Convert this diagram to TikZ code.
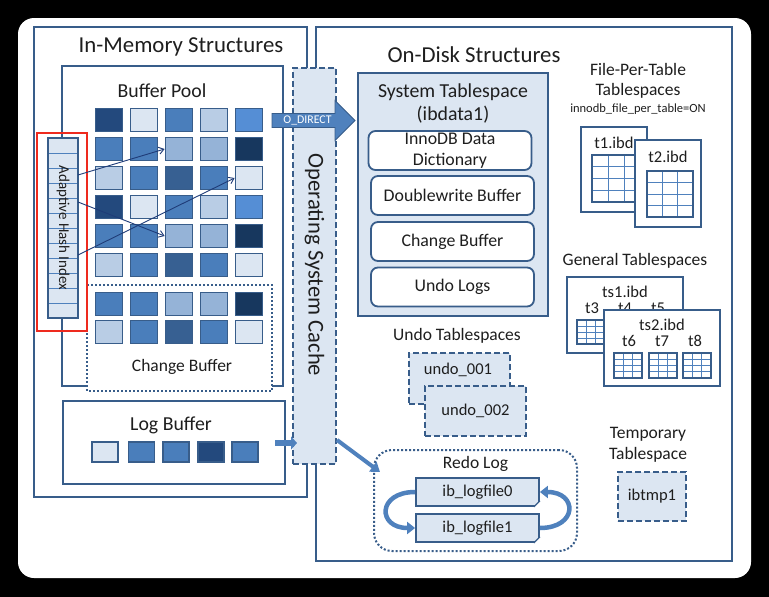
\documentclass[tikz,border=0pt]{standalone}
\usepackage{fontspec}
\setmainfont{Carlito}
\usetikzlibrary{arrows.meta,calc}
\definecolor{bd}{HTML}{385D8A}
\definecolor{lf}{HTML}{DCE6F2}
\definecolor{cnavy}{HTML}{23497D}
\definecolor{cvlight}{HTML}{DCE6F2}
\definecolor{cmed}{HTML}{4A7EBB}
\definecolor{clight}{HTML}{B9CDE5}
\definecolor{cbright}{HTML}{558ED5}
\definecolor{cmedlight}{HTML}{95B3D7}
\definecolor{cvdark}{HTML}{17375E}
\definecolor{cdmed}{HTML}{376092}
\definecolor{ablue}{HTML}{4F81BD}
\definecolor{txt}{HTML}{1E1E1E}
\definecolor{ahired}{HTML}{EE2A1E}
\definecolor{harrow}{HTML}{1F3C78}
\newcommand{\tblgrid}[6]{%
  \fill[white] (#1,#2) rectangle (#3,#4);
  \foreach \k in {1,...,#5}{\draw[ablue,line width=0.9pt] ({#1+(#3-#1)*\k/#5},#2) -- ({#1+(#3-#1)*\k/#5},#4);}
  \foreach \k in {1,...,#6}{\draw[ablue,line width=0.9pt] (#1,{#2+(#4-#2)*\k/#6}) -- (#3,{#2+(#4-#2)*\k/#6});}
  \draw[bd,line width=1.8pt] (#1,#2) rectangle (#3,#4);
}
\begin{document}
\begin{tikzpicture}[x=1pt,y=-1pt,
  box/.style={draw=bd, line width=1.8pt, inner sep=0pt},
  sq/.style={draw=bd, line width=1.8pt, minimum width=27pt, minimum height=23pt, inner sep=0pt},
  lsq/.style={draw=bd, line width=1.8pt, minimum width=26pt, minimum height=20pt, inner sep=0pt},
  lbl/.style={text=txt, inner sep=0pt, font=\fontsize{17.5}{20}\selectfont},
  big/.style={text=txt, inner sep=0pt, font=\fontsize{22.8}{26}\selectfont},
  mid/.style={text=txt, inner sep=0pt, font=\fontsize{19.8}{23}\selectfont},
  sml/.style={text=txt, inner sep=0pt, font=\fontsize{16.5}{19}\selectfont},
  dashbox/.style={draw=bd, line width=1.8pt, dash pattern=on 6pt off 3pt, fill=lf, inner sep=0pt},
  rbox/.style={draw=bd, line width=1.8pt, rounded corners=7pt, fill=white, minimum width=163pt, minimum height=39pt, inner sep=0pt, text=txt, font=\fontsize{17.8}{21}\selectfont, align=center},
  hasharrow/.style={draw=harrow, line width=0.9pt, -{Straight Barb[length=5pt,width=7pt]}},
  fatarrow/.style={draw=ablue, line width=4.5pt, -{Triangle[length=8pt,width=12pt]}},
]
\useasboundingbox (0,0) rectangle (769,597);
\fill[black] (0,0) rectangle (769,597);
\fill[white, rounded corners=16pt] (18,18) rectangle (751,578);

% outer boxes
\draw[box] (34,27) rectangle (307,497);
\draw[box] (316,27) rectangle (732,561);
\node[big] (imtitle) at (181,47) {In-Memory Structures};
\node[big] (odtitle) at (474,55) {On-Disk Structures};

% buffer pool
\draw[box] (62,66) rectangle (283,386);
\node[mid] (bptitle) at (162,91) {Buffer Pool};
\draw[draw=bd, line width=2pt, dotted, fill=white] (87,285) rectangle (272,391);
\node[lbl] (cbtitle) at (182,367) {Change Buffer};

\foreach \r/\yy/\cl in {1/120/{cnavy,cvlight,cmed,clight,cbright},
                        2/149/{cmed,cmed,cmedlight,cmedlight,cvdark},
                        3/178/{clight,cmed,cdmed,cmed,cvlight},
                        4/207/{cnavy,cvlight,cmed,clight,cbright},
                        5/236/{cmed,cmed,cmedlight,cmedlight,cvdark},
                        6/265/{clight,cmed,cdmed,cmed,cvlight},
                        7/304/{cmed,cmed,cmedlight,cmedlight,cvdark},
                        8/332/{clight,cmed,cdmed,cmed,cvlight}}{
  \foreach \cc [count=\i] in \cl {
    \node[sq, fill=\cc] (bp-\r-\i) at ({74+35*\i},\yy) {};
  }
}

% adaptive hash index
\node[draw=bd, line width=1.5pt, fill=lf, minimum width=30pt, minimum height=180pt, inner sep=0pt] (ahi) at (63,228) {};
\foreach \k in {1,...,11}{\draw[ablue, line width=0.7pt] (48.8,{138+15*\k}) -- (77.2,{138+15*\k});}
\node[text=txt, inner sep=0pt, rotate=-90, font=\fontsize{15}{17}\selectfont] (ahitxt) at (63,228) {Adaptive Hash Index};
\node[draw=ahired, line width=2.5pt, minimum width=50pt, minimum height=198pt, inner sep=0pt] (ahibox) at (62,232) {};

\coordinate (h1) at (78,175);
\coordinate (h2) at (78,202);
\coordinate (h3) at (78,255);
\draw[hasharrow] (h1) -- (bp-2-3.west);
\draw[hasharrow] (h2) -- (bp-5-3.west);
\draw[hasharrow] (h3) -- (bp-3-5.west);

% log buffer
\draw[box] (63,401) rectangle (285,484);
\node[mid] (lbtitle) at (171,425) {Log Buffer};
\foreach \cc/\xx [count=\i] in {cvlight/105,cmed/141.5,cmed/176,cnavy/211,cmed/245}{
  \node[lsq, fill=\cc] (lb-\i) at (\xx,452) {};
}

% operating system cache
\node[dashbox, minimum width=43pt, minimum height=396pt] (osc) at (314.5,266) {};
\node[text=txt, inner sep=0pt, rotate=-90, font=\fontsize{22.6}{26}\selectfont] (osctxt) at (314.5,265) {Operating System Cache};

% O_DIRECT arrow
\filldraw[fill=ablue, draw=bd, line width=0.8pt] (272,113.5) -- (335,113.5) -- (335,100.5) -- (355,120.5) -- (335,140.5) -- (335,127.5) -- (272,127.5) -- cycle;
\node[text=white, inner sep=0pt, font=\fontsize{11.8}{14}\selectfont] (odirect) at (307.5,120.5) {O\_DIRECT};

% log buffer -> OS cache
\coordinate (lbout) at (275,443);
\coordinate (oscin) at (297,443);
\draw[draw=ablue, line width=6pt, -{Triangle[length=6pt,width=13pt]}] (lbout) -- (oscin);

% system tablespace
\node[box, fill=lf, minimum width=190pt, minimum height=243pt] (systs) at (453,194.5) {};
\node[mid] (systitle) at (453,92) {System Tablespace};
\node[mid] (ibdata) at (453,115) {(ibdata1)};
\node[rbox, font=\fontsize{17.8}{21}\selectfont] (dict) at (450,150.5) {InnoDB Data\\Dictionary};
\node[rbox] (dblw) at (452.5,195.5) {Doublewrite Buffer};
\node[rbox] (chgb) at (452.5,241.5) {Change Buffer};
\node[rbox] (undol) at (452.5,287) {Undo Logs};

% file-per-table
\node[lbl] (fpt1) at (638,69) {File-Per-Table};
\node[lbl] (fpt2) at (638,91) {Tablespaces};
\node[text=txt, inner sep=0pt, font=\fontsize{12.5}{14}\selectfont] (fpt3) at (638,109) {innodb\_file\_per\_table=ON};
\node[box, fill=white, minimum width=66pt, minimum height=85pt] (t1) at (614,169.5) {};
\node[sml] (t1txt) at (614,143) {t1.ibd};
\tblgrid{592}{155}{640}{202}{3}{4}
\node[box, fill=white, minimum width=66pt, minimum height=87pt] (t2) at (668,183.5) {};
\node[sml] (t2txt) at (668,157) {t2.ibd};
\tblgrid{647}{171}{693}{217}{3}{4}

% general tablespaces
\node[lbl] (gentitle) at (635,261) {General Tablespaces};
\node[box, fill=white, minimum width=116pt, minimum height=76pt] (ts1) at (625,315) {};
\node[sml] (ts1txt) at (625,292) {ts1.ibd};
\node[sml] (t3txt) at (592,308) {t3};
\node[sml] (t4txt) at (625,308) {t4};
\node[sml] (t5txt) at (658,308) {t5};
\tblgrid{577}{320}{605}{344}{3}{4}
\node[box, fill=white, minimum width=116pt, minimum height=76pt] (ts2) at (662,348) {};
\node[sml] (ts2txt) at (662,325) {ts2.ibd};
\node[sml] (t6txt) at (629,341) {t6};
\node[sml] (t7txt) at (662,341) {t7};
\node[sml] (t8txt) at (695,341) {t8};
\tblgrid{614}{353}{642}{378}{3}{4}
\tblgrid{649}{353}{677}{378}{3}{4}
\tblgrid{683}{353}{711}{378}{3}{4}

% undo tablespaces
\node[lbl] (undotitle) at (457,336) {Undo Tablespaces};
\node[dashbox, minimum width=101pt, minimum height=51pt] (undo1) at (459.5,378.5) {};
\node[sml] (undo1txt) at (458,370) {undo\_001};
\node[dashbox, minimum width=101pt, minimum height=50pt] (undo2) at (475.5,411) {};
\node[sml] (undo2txt) at (475.5,411) {undo\_002};

% temporary tablespace
\node[lbl] (tmp1) at (648,434) {Temporary};
\node[lbl] (tmp2) at (648,455) {Tablespace};
\node[dashbox, minimum width=68pt, minimum height=49pt, sml] (ibtmp) at (652,496.5) {ibtmp1};

% redo log
\node[draw=bd, line width=2pt, dotted, rounded corners=18pt, minimum width=203pt, minimum height=101pt, inner sep=0pt] (redo) at (475.5,500.5) {};
\node[lbl] (redotitle) at (475.5,464) {Redo Log};
\node[box, fill=lf, minimum width=123pt, minimum height=28pt, sml] (lf0) at (477.5,492) {ib\_logfile0};
\node[box, fill=lf, minimum width=123pt, minimum height=28pt, sml] (lf1) at (477.5,528) {ib\_logfile1};
\foreach \n in {lf0,lf1}{
  \fill[white] ([xshift=-6pt]\n.south east) -- ([xshift=1pt,yshift=-1pt]\n.south east) -- ([yshift=6pt]\n.south east) -- cycle;
  \draw[bd, line width=1.2pt] ([xshift=-6pt]\n.south east) -- ([yshift=6pt]\n.south east);
}
\draw[fatarrow] (lf0.west) .. controls +(-38,0) and +(-38,0) .. (lf1.west);
\draw[fatarrow] (lf1.east) .. controls +(38,0) and +(38,0) .. (lf0.east);

% OS cache -> redo log
\coordinate (oscout) at (337,440);
\coordinate (redoin) at (380,472);
\draw[draw=ablue, line width=4pt, -{Triangle[length=9pt,width=12pt]}] (oscout) -- (redoin);
\end{tikzpicture}
\end{document}
